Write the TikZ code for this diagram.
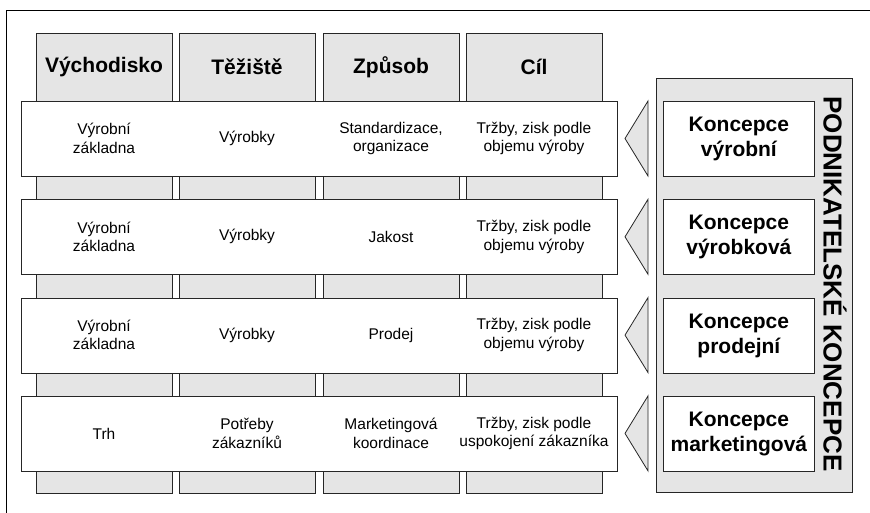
\documentclass[tikz,border=0pt]{standalone}
\usepackage{fontspec}
\setmainfont{Liberation Sans}

\begin{document}
\begin{tikzpicture}[x=1pt,y=-1pt,
    col/.style={draw=black!85, fill=black!10, line width=0.8pt, anchor=north west,
        minimum width=136pt, minimum height=460pt, inner sep=0pt},
    head/.style={font=\fontsize{21}{25}\selectfont\bfseries},
    rowbox/.style={draw=black!85, fill=white, line width=0.8pt, anchor=north west,
        minimum width=596pt, minimum height=75pt, inner sep=0pt},
    cell/.style={font=\fontsize{15.5}{18.5}\selectfont, align=center},
    concept/.style={draw=black!85, fill=white, line width=0.8pt, anchor=north west,
        minimum width=151pt, minimum height=75pt, inner sep=0pt, align=center,
        font=\fontsize{21}{25}\selectfont\bfseries},
    wedge/.style={draw=black!85, fill=black!10, line width=0.8pt, line join=miter}]
        \useasboundingbox (0,0) rectangle (870,513);
        % Frame
        \draw[line width=0.8pt] (6,513) -- (6,10) -- (870,10);
        % Columns and headers
        \foreach \n/\x/\t in {1/36/Východisko, 2/179/Těžiště, 3/323/Způsob, 4/466/Cíl} {
            \node[col] (col\n) at (\x,33) {};
            \node[head] (head\n) at (\x+68,67) {\t};
        }
        % Rows
        \foreach \n/\a/\b/\c/\d in {
            1/{Výrobní\\základna}/{Výrobky}/{Standardizace,\\organizace}/{Tržby, zisk podle\\objemu výroby},
            2/{Výrobní\\základna}/{Výrobky}/{Jakost}/{Tržby, zisk podle\\objemu výroby},
            3/{Výrobní\\základna}/{Výrobky}/{Prodej}/{Tržby, zisk podle\\objemu výroby},
            4/{Trh}/{Potřeby\\zákazníků}/{Marketingová\\koordinace}/{Tržby, zisk podle\\uspokojení zákazníka}} {
            \node[rowbox] (row\n) at (21,{101+98.3*(\n-1)}) {};
            \node[cell] (a\n) at (104,{138.5+98.3*(\n-1)}) {\a};
            \node[cell] (b\n) at (247,{138.5+98.3*(\n-1)}) {\b};
            \node[cell] (c\n) at (391,{138.5+98.3*(\n-1)}) {\c};
            \node[cell] (d\n) at (534,{138.5+98.3*(\n-1)}) {\d};
            % Wedge
            \draw[wedge] (648,{101+98.3*(\n-1)}) -- (625,{138.5+98.3*(\n-1)})
                -- (648,{176+98.3*(\n-1)}) -- cycle;
        }
        % Panel
        \node[draw=black!85, fill=black!10, line width=0.8pt, anchor=north west,
            minimum width=196pt, minimum height=414pt, inner sep=0pt] (panel) at (656,78) {};
        \foreach \n/\t in {1/{Koncepce\\výrobní}, 2/{Koncepce\\výrobková},
            3/{Koncepce\\prodejní}, 4/{Koncepce\\marketingová}} {
            \node[concept] (k\n) at (663,{101+98.3*(\n-1)}) {\t};
        }
        \node[rotate=-90, font=\fontsize{26}{30}\selectfont\bfseries] (title) at (835,284)
            {PODNIKATELSKÉ KONCEPCE};
    \end{tikzpicture}
\end{document}
